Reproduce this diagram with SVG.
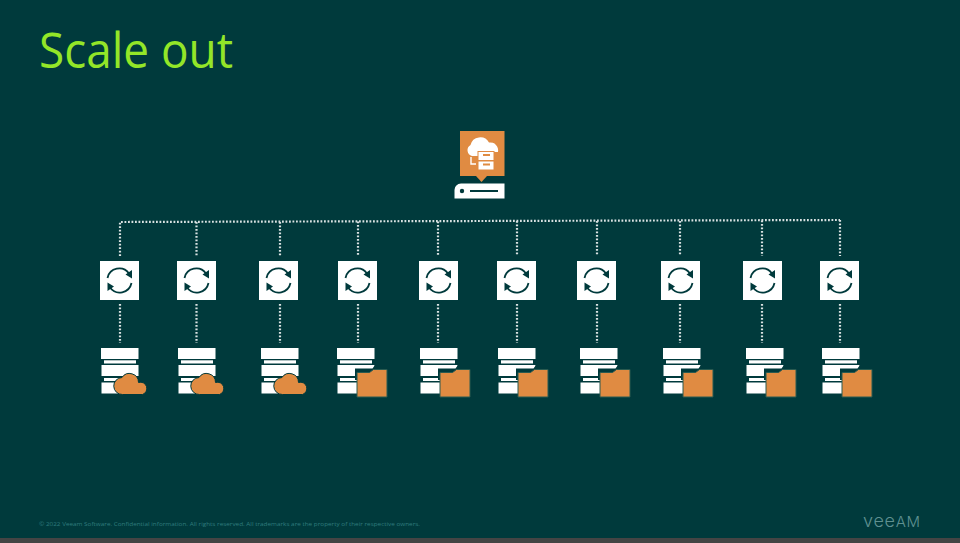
<svg xmlns="http://www.w3.org/2000/svg" xmlns:xlink="http://www.w3.org/1999/xlink" width="960" height="543" viewBox="0 0 960 543">
<style>
.bg{fill:#003a3c}
.w{fill:#fff}
.or{fill:#e08b42}
.lnk{fill:none;stroke:#fff;stroke-width:2.200;stroke-dasharray:1.800 1.700;opacity:.85}
.ring{fill:none;stroke:#003a3c;stroke-width:1.800}
.d{fill:#003a3c}
text{font-family:"Open Sans","Liberation Sans",sans-serif}
</style>
<defs>
<g id="sync">
<rect class="w" width="39" height="39"/>
<path class="ring" d="M7.500 17A12 12 0 0 1 29 12.500"/>
<path class="ring" d="M31.500 22A12 12 0 0 1 10 26.500"/>
<path class="d" d="M32 9L32 17.500L25.500 13.500ZM7.500 30L7.500 21.500L14 25.500Z"/>
</g>
<g id="stack">
<rect class="w" x="0" y="0" width="37.500" height="11"/>
<rect class="w" x="3" y="12.300" width="32" height="3.200"/>
<rect class="w" x="0.500" y="17" width="37" height="11"/>
<rect class="w" x="3" y="30" width="32" height="3"/>
<rect class="w" x="0.500" y="34.500" width="37" height="11"/>
</g>
<g id="cloud">
<use xlink:href="#stack"/>
<path class="or" stroke="#003a3c" stroke-width="1" d="M21.500 46.500A8.500 8.500 0 0 1 21 29.500A9 9 0 0 1 37.500 34.500A6 6 0 1 1 41.500 46.500Z"/>
</g>
<g id="folder">
<use xlink:href="#stack"/>
<path class="bg" d="M18 20.500H35.500L38 17H40V32H18Z"/>
<path class="or" stroke="#2a5a50" stroke-width="1" d="M20 24.500H32.500L36.500 21.500H50V49H20Z"/>
</g>
</defs>
<rect class="bg" width="960" height="543"/>
<rect y="538" width="960" height="5" fill="#444"/>
<text x="39" y="68" font-size="50" fill="#93e628" textLength="194" lengthAdjust="spacingAndGlyphs">Scale out</text>

<g id="connectors">
<path class="lnk" d="M120 256V222L840 220M840 220V256M196.500 222V256M280 222V256M358 221.500V256M438 221.500V256M517 221V256M597 221V256M680 221V256M762 220.500V256"/>
<path class="lnk" d="M120 304V343M196.500 304V343M280 304V343M358 304V343M438 304V343M517 304V343M597 304V343M680 304V343M762 304V343M840 304V343"/>
</g>

<g id="repository">
<rect class="or" x="460" y="131" width="44.500" height="45"/>
<path class="or" d="M476 176H487L481.500 182Z"/>
<path class="w" d="M472 156A6 6 0 0 1 470.500 145A10 10 0 0 1 489 142.500A8 8 0 0 1 498 152H478V156Z"/>
<rect class="w" x="478" y="151.500" width="16" height="9" stroke="#e08b42" stroke-width="1"/>
<rect class="w" x="478" y="161" width="16" height="9" stroke="#e08b42" stroke-width="1"/>
<path class="or" d="M483 154H490V156H483ZM483 163.500H490V165.500H483Z"/>
<path fill="none" stroke="#fff" stroke-width="1.400" d="M471 157V164H476"/>
<path class="w" d="M461 183.500H504.500V198.500H454.500V190Q455 184 461 183.500Z"/>
<circle class="d" cx="462" cy="191" r="2.200"/>
<rect class="d" x="470" y="190" width="28" height="2"/>
</g>

<g id="proxy-1"><use xlink:href="#sync" x="100" y="261"/></g>
<g id="proxy-2"><use xlink:href="#sync" x="177" y="261"/></g>
<g id="proxy-3"><use xlink:href="#sync" x="259" y="261"/></g>
<g id="proxy-4"><use xlink:href="#sync" x="338" y="261"/></g>
<g id="proxy-5"><use xlink:href="#sync" x="419" y="261"/></g>
<g id="proxy-6"><use xlink:href="#sync" x="497" y="261"/></g>
<g id="proxy-7"><use xlink:href="#sync" x="577" y="261"/></g>
<g id="proxy-8"><use xlink:href="#sync" x="661" y="261"/></g>
<g id="proxy-9"><use xlink:href="#sync" x="743" y="261"/></g>
<g id="proxy-10"><use xlink:href="#sync" x="820" y="261"/></g>

<g id="store-1"><use xlink:href="#cloud" x="101" y="348"/></g>
<g id="store-2"><use xlink:href="#cloud" x="178" y="348"/></g>
<g id="store-3"><use xlink:href="#cloud" x="261" y="348"/></g>
<g id="store-4"><use xlink:href="#folder" x="337" y="348"/></g>
<g id="store-5"><use xlink:href="#folder" x="420" y="348"/></g>
<g id="store-6"><use xlink:href="#folder" x="498" y="348"/></g>
<g id="store-7"><use xlink:href="#folder" x="580" y="348"/></g>
<g id="store-8"><use xlink:href="#folder" x="663" y="348"/></g>
<g id="store-9"><use xlink:href="#folder" x="746" y="348"/></g>
<g id="store-10"><use xlink:href="#folder" x="822" y="348"/></g>

<text x="39" y="526" font-size="6" fill="#2f7c7d" textLength="381" lengthAdjust="spacingAndGlyphs">© 2022 Veeam Software. Confidential information. All rights reserved. All trademarks are the property of their respective owners.</text>
<text x="863" y="527" fill="#5f9090" textLength="57" lengthAdjust="spacing" style="font-family:Inter,sans-serif;font-weight:300"><tspan font-size="18">vee</tspan><tspan font-size="15">AM</tspan></text>
</svg>
